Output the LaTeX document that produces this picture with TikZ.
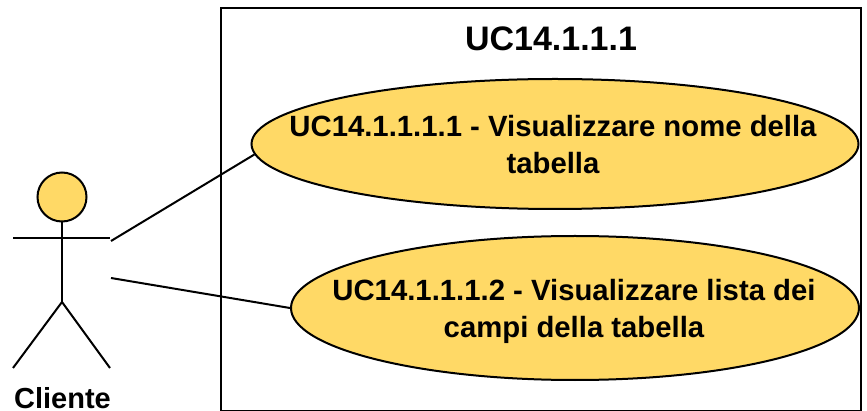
\documentclass[tikz,border=0pt]{standalone}
\usepackage{fontspec}
\setmainfont{Liberation Sans}
\usetikzlibrary{positioning, shapes.geometric}
\definecolor{ucfill}{HTML}{FFD966}

\begin{document}
\begin{tikzpicture}[x=1pt,y=-1pt,line width=2pt]
  \tikzstyle{nodeU}=[ellipse,draw=black,fill=ucfill,inner sep=0pt]
  \tikzstyle{nodeT}=[inner sep=0pt,align=center,font=\fontsize{29.3}{37}\selectfont\bfseries]
  \tikzstyle{nodeL}=[inner sep=0pt,font=\fontsize{29}{32}\selectfont\bfseries]

  \useasboundingbox (0,0) rectangle (867,411);
  \node[draw=black,minimum width=640pt,minimum height=402pt,inner sep=0pt] (system) at (540.5,209.5) {};
  \node[nodeL,font=\fontsize{34}{38}\selectfont\bfseries] (title) at (551,39) {UC14.1.1.1};

  \node[nodeU,minimum width=607pt,minimum height=130pt] (nome) at (555,144) {};
  \node[nodeT] (nometext) at (553,145) {UC14.1.1.1.1 - Visualizzare nome della\\tabella};
  \node[nodeU,minimum width=568pt,minimum height=144pt] (lista) at (575,308) {};
  \node[nodeT] (listatext) at (574,311) {UC14.1.1.1.2 - Visualizzare lista dei\\campi della tabella};

  % actor
  \node[circle,draw=black,fill=ucfill,minimum size=49pt,inner sep=0pt] (head) at (62,197) {};
  \coordinate (hip) at (62,302);
  \coordinate (armL) at (13,238);
  \coordinate (armR) at (110,238);
  \coordinate (footL) at (13,368);
  \coordinate (footR) at (110,368);
  \coordinate (linkA) at (111,241);
  \coordinate (linkB) at (111,278);
  \node[nodeL] (cliente) at (62.5,398) {Cliente};

  \draw (head) -- (hip);
  \draw (armL) -- (armR);
  \draw (footL) -- (hip) -- (footR);

  \draw (linkA) -- (nome.182.5);
  \draw (linkB) -- (lista.west);
\end{tikzpicture}
\end{document}
